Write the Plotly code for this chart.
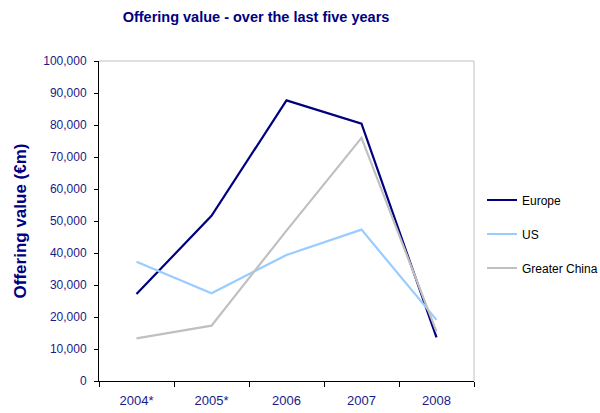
import plotly.graph_objects as go

years = ["2004*", "2005*", "2006", "2007", "2008"]
europe = [27200, 51600, 87700, 80400, 13600]
us = [37300, 27400, 39400, 47300, 19100]
greater_china = [13300, 17300, 47000, 76000, 15400]
y_ticks = list(range(0, 100001, 10000))

navy = "#000080"
txt = "#1a1a88"
font = "Liberation Sans, Arial, sans-serif"

fig = go.Figure()
for name, vals, col, g in [("Europe", europe, navy, "a"),
                           ("US", us, "#99ccff", "b"),
                           ("Greater China", greater_china, "#c0c0c0", "c")]:
    fig.add_trace(go.Scatter(x=years, y=vals, name=name, mode="lines",
                             line=dict(color=col, width=2.2), legendgroup=g))

fig.update_layout(
    width=600, height=413,
    margin=dict(l=99, r=126, t=61, b=32),
    paper_bgcolor="white", plot_bgcolor="white",
    font=dict(family=font, color=txt, size=11),
    title=dict(text="<b>Offering value - over the last five years</b>",
               x=(256) / 600, xanchor="center", y=1 - 16.5 / 413, yanchor="middle",
               font=dict(size=14.5, color=navy, family=font)),
    showlegend=True,
    legend=dict(xref="container", yref="container", x=482 / 600, xanchor="left",
                y=1 - 234 / 413, yanchor="middle",
                font=dict(size=12, color="#000000", family=font),
                tracegroupgap=15, itemwidth=30, bgcolor="rgba(0,0,0,0)"),
    shapes=[dict(type="line", xref="paper", yref="paper", x0=0, x1=1, y0=1, y1=1,
                 line=dict(color="#c0c0c0", width=1)),
            dict(type="line", xref="paper", yref="paper", x0=1, x1=1, y0=0, y1=1,
                 line=dict(color="#c0c0c0", width=1))],
)
fig.update_xaxes(type="category", range=[-0.5, 4.5], showline=True, linecolor="black",
                 linewidth=1, ticks="outside", ticklen=5, tickcolor="black",
                 tickson="boundaries", showgrid=False, ticklabelstandoff=7,
                 automargin=False, tickfont=dict(size=13, color=txt))
fig.update_yaxes(range=[0, 100000], tickvals=y_ticks, tickformat=",", showline=True,
                 linecolor="black", linewidth=1, ticks="outside", ticklen=4,
                 tickcolor="black", showgrid=False, zeroline=False, automargin=False,
                 ticklabelstandoff=5,
                 tickfont=dict(size=12, color=txt),
                 title=dict(text="<b>Offering value (€m)</b>", standoff=12,
                            font=dict(size=17, color=navy, family=font)))

fig.write_html("out.html", config={"responsive": False, "displayModeBar": False},
               post_script="document.body.style.margin='0';document.body.style.overflow='hidden';")
